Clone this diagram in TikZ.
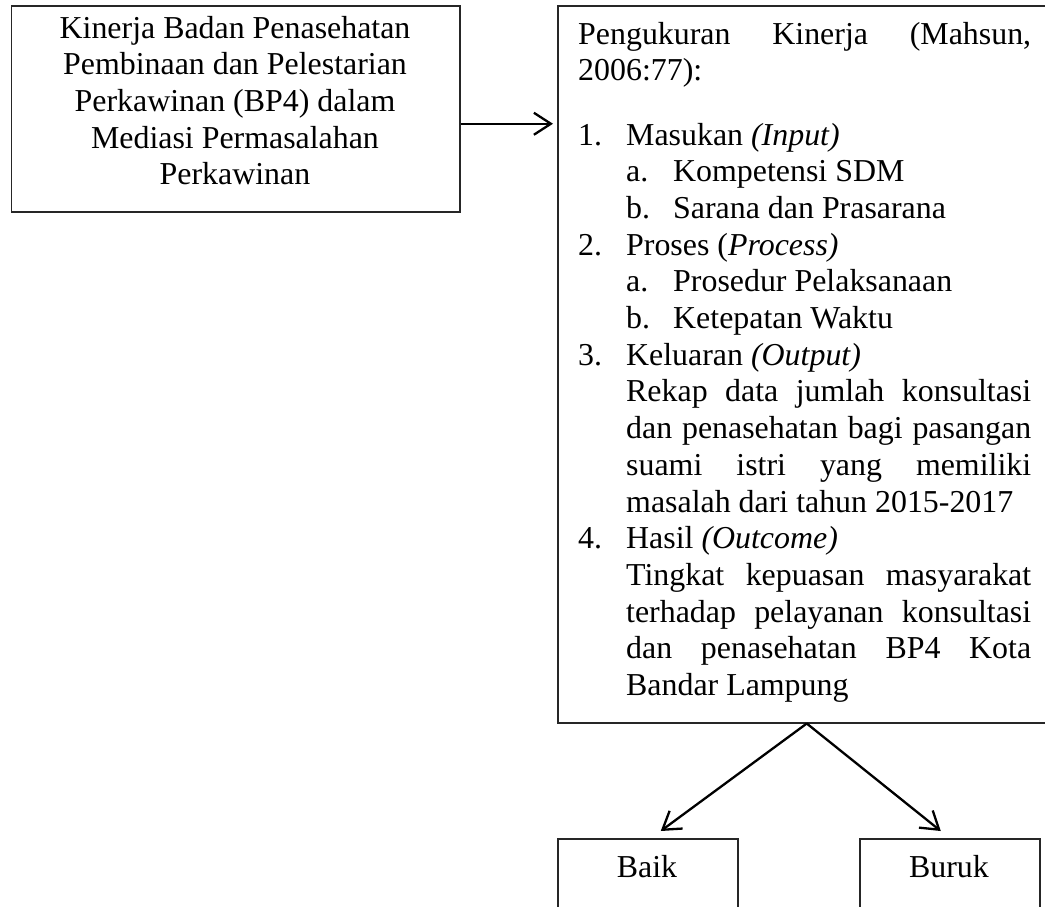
\documentclass[tikz,border=0pt]{standalone}
\usepackage{fontspec}
\setmainfont{Liberation Serif}
\usetikzlibrary{arrows.meta}
\newcommand\rkNum[1]{\makebox[48pt][l]{#1}}
\newcommand\rkSub[1]{\hspace*{48pt}\makebox[47pt][l]{#1}}
\newcommand\rkJust[1]{\hspace*{48pt}\makebox[405pt][s]{#1}}
\newcommand\rkFont{\fontsize{31.9}{36.7}\selectfont}
\begin{document}
\begin{tikzpicture}[x=1pt,y=1pt,
  boxshape/.style={draw=black!85, line width=1.5pt, rectangle, inner sep=0pt, anchor=north west},
  txt/.style={inner sep=0pt, font=\rkFont},
  arr/.style={line width=2.3pt, -{Straight Barb[length=17pt,width=22pt]}}]
\useasboundingbox (0,0) rectangle (1045,-906);
\clip (0,0) rectangle (1045,-906);

% boxes
\node[boxshape, minimum width=448.3pt, minimum height=206pt] (kin) at (10.7,-5) {};
\node[boxshape, minimum width=490pt, minimum height=717pt] (meas) at (557,-5) {};
\node[boxshape, minimum width=180pt, minimum height=120pt] (baik) at (557,-838) {};
\node[boxshape, minimum width=180pt, minimum height=120pt] (buruk) at (859,-838) {};

% texts
\node[txt, anchor=base] (kintext) at (235,-38) {\parbox[t]{440pt}{\rkFont\centering
Kinerja Badan Penasehatan\\
Pembinaan dan Pelestarian\\
Perkawinan (BP4) dalam\\
Mediasi Permasalahan\\
Perkawinan}};

\node[txt, anchor=base west] (meastext) at (578,-44) {\parbox[t]{453pt}{\rkFont\parindent=0pt\raggedright
\makebox[453pt][s]{Pengukuran Kinerja (Mahsun,}\par
2006:77):\par
\vspace{27.6pt}
\rkNum{1.}Masukan \textit{(Input)}\par
\rkSub{a.}Kompetensi SDM\par
\rkSub{b.}Sarana dan Prasarana\par
\rkNum{2.}Proses (\textit{Process)}\par
\rkSub{a.}Prosedur Pelaksanaan\par
\rkSub{b.}Ketepatan Waktu\par
\rkNum{3.}Keluaran \textit{(Output)}\par
\rkJust{Rekap data jumlah konsultasi}\par
\rkJust{dan penasehatan bagi pasangan}\par
\rkJust{suami istri yang memiliki}\par
\hspace*{48pt}masalah dari tahun 2015-2017\par
\rkNum{4.}Hasil \textit{(Outcome)}\par
\rkJust{Tingkat kepuasan masyarakat}\par
\rkJust{terhadap pelayanan konsultasi}\par
\rkJust{dan penasehatan BP4 Kota}\par
\hspace*{48pt}Bandar Lampung\par}};

\node[txt, anchor=base] (baiktext) at (647,-877) {Baik};
\node[txt, anchor=base] (buruktext) at (949,-877) {Buruk};

% connectors
\draw[arr, shorten >=4pt] ([yshift=-15pt]kin.east) -- ([yshift=-15pt]kin.east -| meas.west);
\coordinate (apex) at ([xshift=4pt]meas.south);
\draw[arr] (apex) -- ([xshift=13pt,yshift=7pt]baik.north);
\draw[arr] (apex) -- ([xshift=-9pt,yshift=7pt]buruk.north);
\end{tikzpicture}
\end{document}
